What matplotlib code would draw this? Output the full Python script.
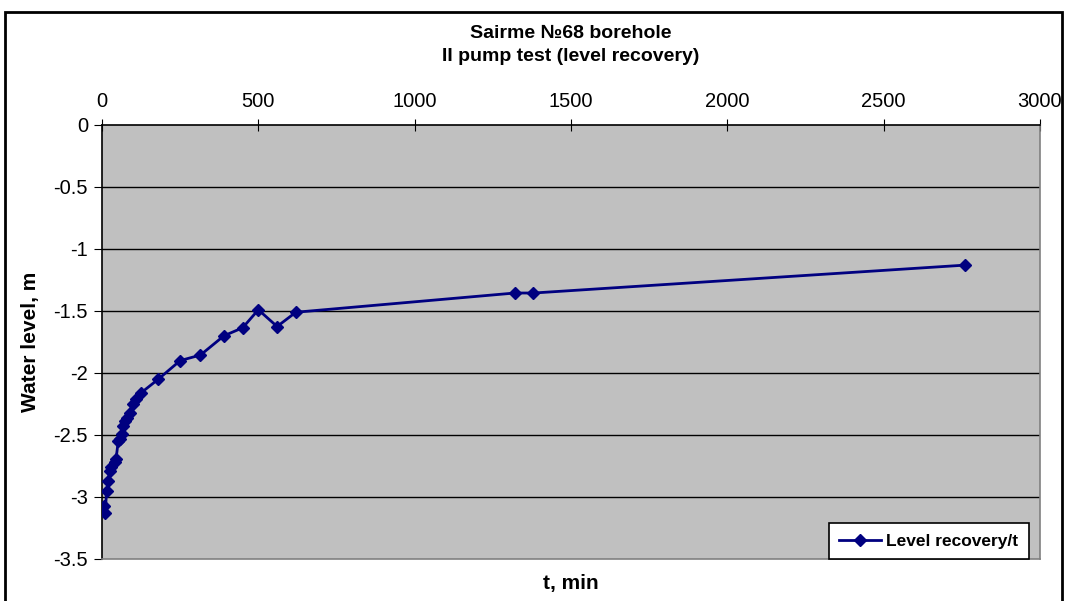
import matplotlib.pyplot as plt
from matplotlib.patches import Rectangle

plt.rcParams['font.family'] = ['Liberation Sans', 'DejaVu Sans']

# recovery data, t in minutes, level in metres
t_min = [5, 10, 15, 20, 25, 30, 40, 45, 52, 58, 63, 68, 75, 80, 88, 98, 110, 125,
         180, 250, 315, 390, 450, 500, 560, 620, 1320, 1380, 2760]
level = [-3.07, -3.13, -2.95, -2.87, -2.79, -2.76, -2.72, -2.69, -2.55, -2.53, -2.49,
         -2.43, -2.39, -2.36, -2.32, -2.25, -2.21, -2.16,
         -2.05, -1.90, -1.855, -1.70, -1.635, -1.49, -1.625, -1.51, -1.355, -1.355, -1.13]

x_ticks = [0, 500, 1000, 1500, 2000, 2500, 3000]
y_ticks = [0, -0.5, -1, -1.5, -2, -2.5, -3, -3.5]

fig = plt.figure(figsize=(10.65, 6.01), dpi=100)
ax = fig.add_axes([102 / 1065, 1 - 559 / 601, (1040 - 102) / 1065, (559 - 125) / 601])
ax.set_facecolor('#C0C0C0')

ax.plot(t_min, level, color='#000080', lw=2, marker='D', markersize=6,
        label='Level recovery/t', zorder=3)

ax.set_xlim(0, 3000)
ax.set_ylim(-3.5, 0)
ax.set_xticks(x_ticks)
ax.set_yticks(y_ticks)
ax.set_yticklabels([f'{v:g}' for v in y_ticks])
ax.xaxis.tick_top()
ax.tick_params(axis='x', direction='inout', length=8, labelsize=14.5, pad=6)
ax.tick_params(axis='y', direction='out', length=6, labelsize=14.5, pad=4)

for v in y_ticks[1:-1]:
    ax.axhline(v, color='black', lw=1, zorder=1)

ax.spines['left'].set_color('black')
ax.spines['top'].set_color('black')
ax.spines['right'].set_color('#808080')
ax.spines['bottom'].set_color('#808080')
for s in ax.spines.values():
    s.set_linewidth(1.2)

ax.set_ylabel('Water level, m', fontsize=15, fontweight='bold', labelpad=10)
fig.text(0.536, 0.014, 't, min', ha='center', va='bottom', fontsize=15, fontweight='bold')
fig.text(0.536, 0.958, 'Sairme №68 borehole\nII pump test (level recovery)', ha='center',
         va='top', fontsize=14, fontweight='bold', linespacing=1.45)

leg = ax.legend(loc='lower right', bbox_to_anchor=(0.997, -0.02), fontsize=12.5, frameon=True,
                fancybox=False, edgecolor='black', framealpha=1, borderpad=0.6,
                handlelength=2.4, handletextpad=0.3)
for txt in leg.get_texts():
    txt.set_fontweight('bold')
leg.get_frame().set_linewidth(1.2)

fig.patches.append(Rectangle((5 / 1065, -0.1), (1062 - 5) / 1065, 1.1 - 12 / 601,
                             transform=fig.transFigure, fill=False, edgecolor='black',
                             lw=2, clip_on=False))

fig.savefig('out.png', dpi=100)
